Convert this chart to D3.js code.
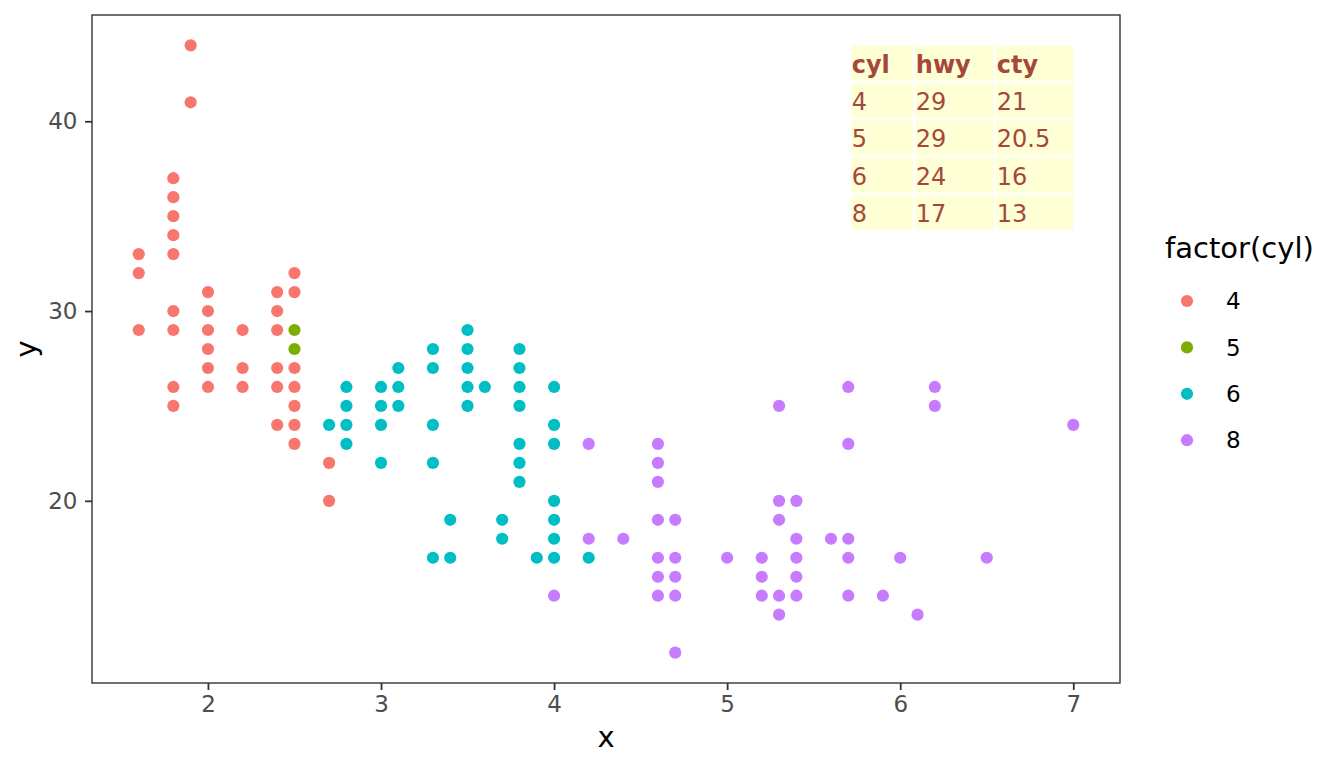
<!DOCTYPE html>
<html><head><meta charset="utf-8">
<script src="https://cdn.jsdelivr.net/npm/d3@7"></script>
<style>body{margin:0;background:#fff}text{font-family:"DejaVu Sans",sans-serif}</style>
</head><body><svg id="c" width="1344" height="768"></svg>
<script>
// ---- data (displ, hwy) ----
const cyl4 = [[1.6,33],[1.6,32],[1.6,29],
  [1.8,37],[1.8,36],[1.8,35],[1.8,34],[1.8,33],[1.8,30],[1.8,29],[1.8,26],[1.8,25],
  [1.9,44],[1.9,41],
  [2.0,31],[2.0,30],[2.0,29],[2.0,28],[2.0,27],[2.0,26],
  [2.2,29],[2.2,27],[2.2,26],
  [2.4,31],[2.4,30],[2.4,29],[2.4,27],[2.4,26],[2.4,24],
  [2.5,32],[2.5,31],[2.5,27],[2.5,26],[2.5,25],[2.5,24],[2.5,23],
  [2.7,22],[2.7,20]];
const cyl5 = [[2.5,29],[2.5,28]];
const cyl6 = [[2.7,24],
  [2.8,26],[2.8,25],[2.8,24],[2.8,23],
  [3.0,26],[3.0,25],[3.0,24],[3.0,22],
  [3.1,27],[3.1,26],[3.1,25],
  [3.3,28],[3.3,27],[3.3,24],[3.3,22],[3.3,17],
  [3.4,19],[3.4,17],
  [3.5,29],[3.5,28],[3.5,27],[3.5,26],[3.5,25],
  [3.6,26],
  [3.7,19],[3.7,18],
  [3.8,28],[3.8,27],[3.8,26],[3.8,25],[3.8,23],[3.8,22],[3.8,21],
  [3.9,17],
  [4.0,26],[4.0,24],[4.0,23],[4.0,20],[4.0,19],[4.0,18],[4.0,17],
  [4.2,17]];
const cyl8 = [[4.0,15],
  [4.2,23],[4.2,18],
  [4.4,18],
  [4.6,23],[4.6,22],[4.6,21],[4.6,19],[4.6,17],[4.6,16],[4.6,15],
  [4.7,19],[4.7,17],[4.7,16],[4.7,15],[4.7,12],
  [5.0,17],
  [5.2,17],[5.2,16],[5.2,15],
  [5.3,25],[5.3,20],[5.3,19],[5.3,15],[5.3,14],
  [5.4,20],[5.4,18],[5.4,17],[5.4,16],[5.4,15],
  [5.6,18],
  [5.7,26],[5.7,23],[5.7,18],[5.7,17],[5.7,15],
  [5.9,15],[6.0,17],[6.1,14],
  [6.2,26],[6.2,25],
  [6.5,17],[7.0,24]];
const seriesNames = ["4","5","6","8"];
const seriesColors = ["#F8766D","#7CAE00","#00BFC4","#C77CFF"];
const seriesData = [cyl4, cyl5, cyl6, cyl8];
const xTicks = [2,3,4,5,6,7];
const yTicks = [20,30,40];
// table annotation
const tableHeader = ["cyl","hwy","cty"];
const tableCyl = ["4","5","6","8"];
const tableHwy = ["29","29","24","17"];
const tableCty = ["21","20.5","16","13"];
const tableAnchor = [7, 44];

// ---- layout ----
const svg = d3.select("#c");
const L = 92, R = 1120, T = 15, B = 683;
const x = d3.scaleLinear().domain([1.33, 7.27]).range([L, R]);
const y = d3.scaleLinear().domain([10.4, 45.6]).range([B, T]);

// points
seriesData.forEach((s, i) => {
  svg.append("g").selectAll("circle").data(s).join("circle")
    .attr("cx", d => x(d[0])).attr("cy", d => y(d[1])).attr("r", 6.1)
    .attr("fill", seriesColors[i]);
});

// table
const tg = svg.append("g");
const fs = 24, pad = 26, rowH = 37.4, gap = 2.6, cellH = 35;
const cols = [[tableHeader[0], ...tableCyl],[tableHeader[1], ...tableHwy],[tableHeader[2], ...tableCty]];
const meas = svg.append("g");
const colW = cols.map(col => {
  let m = 0;
  col.forEach((t, r) => {
    const e = meas.append("text").attr("font-size", fs).attr("font-weight", r === 0 ? "bold" : "normal").text(t);
    m = Math.max(m, e.node().getComputedTextLength());
  });
  return m + pad;
});
meas.remove();
const totalW = d3.sum(colW);
const tx0 = x(tableAnchor[0]) - totalW + gap, ty0 = y(tableAnchor[1]);
let cx = tx0;
cols.forEach((col, ci) => {
  const w = colW[ci];
  col.forEach((t, r) => {
    const cy = ty0 + r * rowH;
    tg.append("rect").attr("x", cx).attr("y", cy).attr("width", w - gap).attr("height", cellH).attr("fill", "#FFFFD6");
    tg.append("text").attr("x", cx + 0.3).attr("y", cy + 27.3).attr("font-size", fs)
      .attr("font-weight", r === 0 ? "bold" : "normal").attr("fill", "#A6473C").text(t);
  });
  cx += w;
});

// panel border
svg.append("rect").attr("x", L).attr("y", T).attr("width", R - L).attr("height", B - T)
  .attr("fill", "none").attr("stroke", "#333333").attr("stroke-width", 1.4);

// axes
const xa = svg.append("g").attr("transform", `translate(0,${B})`)
  .call(d3.axisBottom(x).tickValues(xTicks).tickSize(7).tickPadding(6).tickFormat(d3.format("d")));
const ya = svg.append("g").attr("transform", `translate(${L},0)`)
  .call(d3.axisLeft(y).tickValues(yTicks).tickSize(7).tickPadding(7.5).tickFormat(d3.format("d")));
[xa, ya].forEach(a => {
  a.select(".domain").remove();
  a.selectAll("line").attr("stroke", "#333333").attr("stroke-width", 1.8);
  a.selectAll("text").attr("font-size", 23).attr("fill", "#4D4D4D").attr("font-family", '"DejaVu Sans",sans-serif');
});

// axis titles
svg.append("text").attr("x", (L + R) / 2).attr("y", 747).attr("text-anchor", "middle").attr("font-size", 29).text("x");
svg.append("text").attr("transform", `translate(36,${(T + B) / 2}) rotate(-90)`).attr("text-anchor", "middle").attr("font-size", 29).text("y");

// legend
svg.append("text").attr("x", 1165).attr("y", 258).attr("font-size", 29).text("factor(cyl)");
seriesNames.forEach((n, i) => {
  const ly = 301 + i * 46.4;
  svg.append("circle").attr("cx", 1187).attr("cy", ly).attr("r", 6.1).attr("fill", seriesColors[i]);
  svg.append("text").attr("x", 1226).attr("y", ly).attr("dy", "0.36em").attr("font-size", 23).text(n);
});
</script></body></html>
